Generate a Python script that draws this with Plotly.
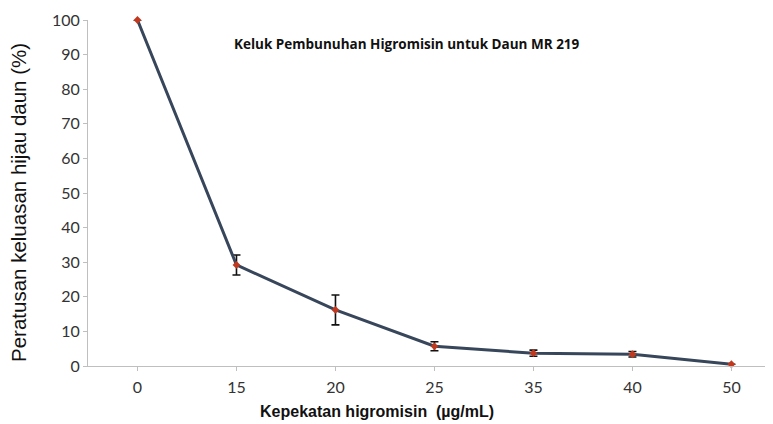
import plotly.graph_objects as go

concentrations = ["0", "15", "20", "25", "35", "40", "50"]
green_pct = [100, 29.2, 16.2, 5.7, 3.7, 3.4, 0.5]
err = [0, 2.9, 4.3, 1.3, 0.9, 0.8, 0]

# page body has an 8px margin; offsets below compensate for it
OFF = 8
L, T = 88 - OFF, 20 - OFF
PW, PH = 685, 346
W, H = L + PW, 424 - OFF
B = H - T - PH

def px(xp):
    return (xp - OFF - L) / PW

def py(yp):
    return (T + PH - (yp - OFF)) / PH

fig = go.Figure()
fig.add_trace(go.Scatter(
    x=concentrations, y=green_pct,
    mode="lines+markers",
    line=dict(color="#37465a", width=3),
    marker=dict(symbol="diamond", size=6, color="#c0391f"),
    error_y=dict(type="data", array=err, visible=True, color="#111111", thickness=1.6, width=4),
    cliponaxis=False,
    showlegend=False,
))

fig.update_layout(
    width=W, height=H,
    margin=dict(l=L, r=0, t=T, b=B),
    paper_bgcolor="white", plot_bgcolor="white",
    font=dict(family="Lato, Open Sans, sans-serif", color="#333333"),
    xaxis=dict(
        type="category", range=[-0.5, 6.42],
        showline=True, linecolor="#bfbfbf", linewidth=1,
        ticks="outside", ticklen=4, tickcolor="#bfbfbf",
        showgrid=False, zeroline=False, ticklabelstandoff=3,
        tickfont=dict(size=16, color="#333333"),
    ),
    yaxis=dict(
        range=[0, 100], dtick=10,
        showline=True, linecolor="#bfbfbf", linewidth=1,
        ticks="outside", ticklen=4, tickcolor="#bfbfbf",
        showgrid=False, zeroline=False,
        tickfont=dict(size=16, color="#333333"),
    ),
    annotations=[
        dict(text="<b>Keluk Pembunuhan Higromisin untuk Daun MR 219</b>",
             x=px(407), y=py(44), xref="paper", yref="paper", showarrow=False,
             xanchor="center", yanchor="middle",
             font=dict(family="Open Sans, sans-serif", size=13.5, color="#111111")),
        dict(text="<b>Kepekatan higromisin  (µg/mL)</b>",
             x=px(377), y=py(411), xref="paper", yref="paper", showarrow=False,
             xanchor="center", yanchor="middle",
             font=dict(family="Liberation Sans, Arial, sans-serif", size=16, color="#111111")),
        dict(text="Peratusan keluasan hijau daun (%)",
             x=px(18), y=py(203), xref="paper", yref="paper", showarrow=False,
             xanchor="center", yanchor="middle", textangle=-90,
             font=dict(family="Liberation Sans, Arial, sans-serif", size=20.5, color="#111111")),
    ],
)

fig.write_html("out.html")
